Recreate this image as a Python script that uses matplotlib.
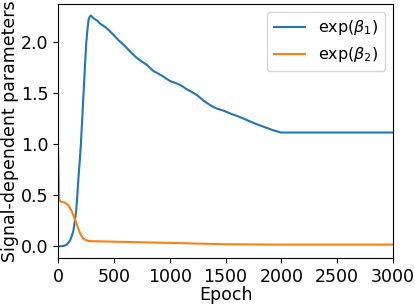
import matplotlib
matplotlib.use("Agg")
import matplotlib.pyplot as plt

# Blue: exp(beta_1)
b1_epoch = [0, 50, 80, 108, 125, 138, 150, 162, 172, 183, 194, 204, 216, 228, 240, 252, 263, 273, 284, 294,
            320, 350, 377, 420, 460, 497, 540, 600, 647, 700, 750, 797, 850, 900, 946, 1000, 1050, 1096,
            1150, 1200, 1246, 1300, 1366, 1420, 1480, 1545, 1620, 1695, 1770, 1845, 1920, 1995, 2000, 3000]
b1_value = [0.0, 0.005, 0.02, 0.06, 0.11, 0.16, 0.25, 0.35, 0.50, 0.68, 0.84, 1.0, 1.25, 1.50, 1.75, 1.99, 2.12, 2.22, 2.25, 2.26,
            2.23, 2.21, 2.18, 2.15, 2.11, 2.07, 2.02, 1.96, 1.905, 1.85, 1.81, 1.775, 1.72, 1.69, 1.66, 1.62, 1.60, 1.58,
            1.54, 1.51, 1.48, 1.43, 1.38, 1.35, 1.33, 1.30, 1.27, 1.235, 1.20, 1.17, 1.14, 1.115, 1.115, 1.115]

# Orange: exp(beta_2)
b2_epoch = [0, 10, 20, 60, 93, 120, 153, 175, 198, 220, 243, 270, 300, 500, 1000, 1500, 2000, 3000]
b2_value = [0.95, 0.46, 0.44, 0.43, 0.40, 0.35, 0.26, 0.19, 0.125, 0.085, 0.065, 0.055, 0.052, 0.047, 0.035, 0.022, 0.018, 0.018]

plt.rcParams['font.size'] = 12.5
fig, ax = plt.subplots(figsize=(4.15, 3.05), dpi=100)
ax.plot(b1_epoch, b1_value, color='#1f77b4', lw=1.5, label=r'exp($\beta_1$)')
ax.plot(b2_epoch, b2_value, color='#ff7f0e', lw=1.5, label=r'exp($\beta_2$)')
ax.set_xlim(0, 3000)
ax.set_xticks([0, 500, 1000, 1500, 2000, 2500, 3000])
ax.set_yticks([0.0, 0.5, 1.0, 1.5, 2.0])
ax.set_xlabel('Epoch', labelpad=0)
ax.set_ylabel('Signal-dependent parameters', labelpad=1)
ax.legend(loc='upper right', fontsize=11.5)
fig.subplots_adjust(left=0.14, right=0.947, top=0.987, bottom=0.154)
fig.savefig('out.png', dpi=100)
